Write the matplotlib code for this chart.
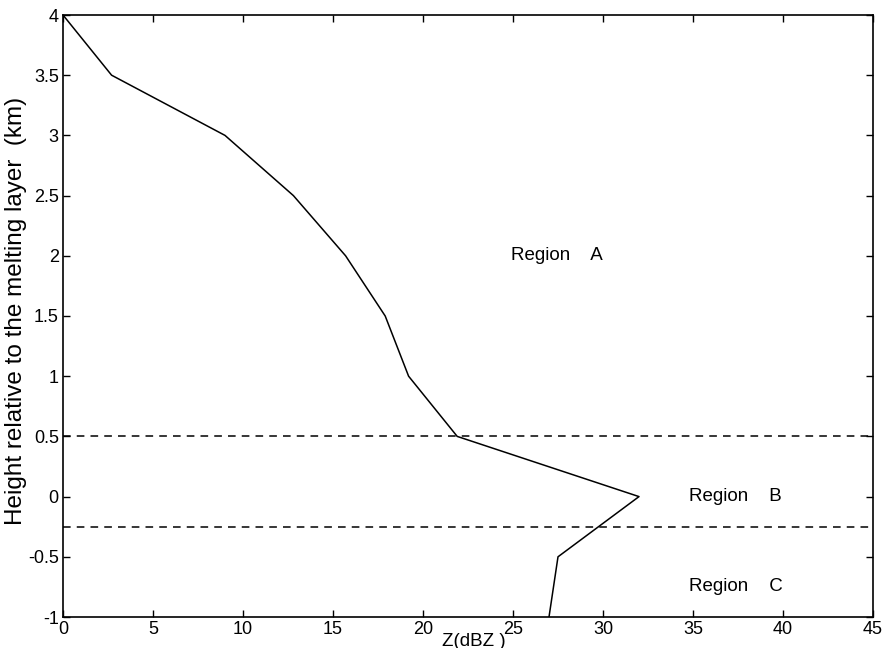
import matplotlib
matplotlib.use("Agg")
import matplotlib.pyplot as plt

# Data
z_dbz = [0, 2.7, 9.0, 12.8, 15.7, 17.9, 19.2, 21.9, 32.0, 27.5, 27.0]
height_km = [4.0, 3.5, 3.0, 2.5, 2.0, 1.5, 1.0, 0.5, 0.0, -0.5, -1.0]
boundaries = [0.5, -0.25]
region_labels = ["Region    A", "Region    B", "Region    C"]
region_x = [24.9, 34.8, 34.8]
region_y = [2.0, 0.0, -0.75]
xticks = [0, 5, 10, 15, 20, 25, 30, 35, 40, 45]
yticks = [-1, -0.5, 0, 0.5, 1, 1.5, 2, 2.5, 3, 3.5, 4]
ytick_labels = ["-1", "-0.5", "0", "0.5", "1", "1.5", "2", "2.5", "3", "3.5", "4"]

plt.rcParams['font.family'] = ['Liberation Sans', 'DejaVu Sans']

fig = plt.figure(figsize=(8.87, 6.48), dpi=100)
ax = fig.add_axes([63/887, 1-617/648, 810/887, 602/648])

ax.plot(z_dbz, height_km, color='black', linewidth=1.1)
for b in boundaries:
    ax.axhline(b, color='black', linestyle=(0, (5, 4)), linewidth=1.1)

for lab, x, y in zip(region_labels, region_x, region_y):
    ax.text(x, y, lab, fontsize=13.5, va='center', ha='left')

ax.set_xlim(0, 45)
ax.set_ylim(-1, 4)
ax.set_xticks(xticks)
ax.set_xticklabels([str(t) for t in xticks])
ax.set_yticks(yticks)
ax.set_yticklabels(ytick_labels)
ax.tick_params(direction='in', top=True, right=True, length=5, width=1,
               labelsize=13, pad=3)
for s in ax.spines.values():
    s.set_linewidth(1.2)

ax.text(0.507, -0.040, "Z(dBZ )", transform=ax.transAxes, ha='center', va='center',
        fontsize=13.5)
ax.text(-0.058, 0.508, "Height relative to the melting layer  (km)", transform=ax.transAxes,
        ha='center', va='center', rotation=90, fontsize=17.5)

fig.savefig("out.png", dpi=100)
